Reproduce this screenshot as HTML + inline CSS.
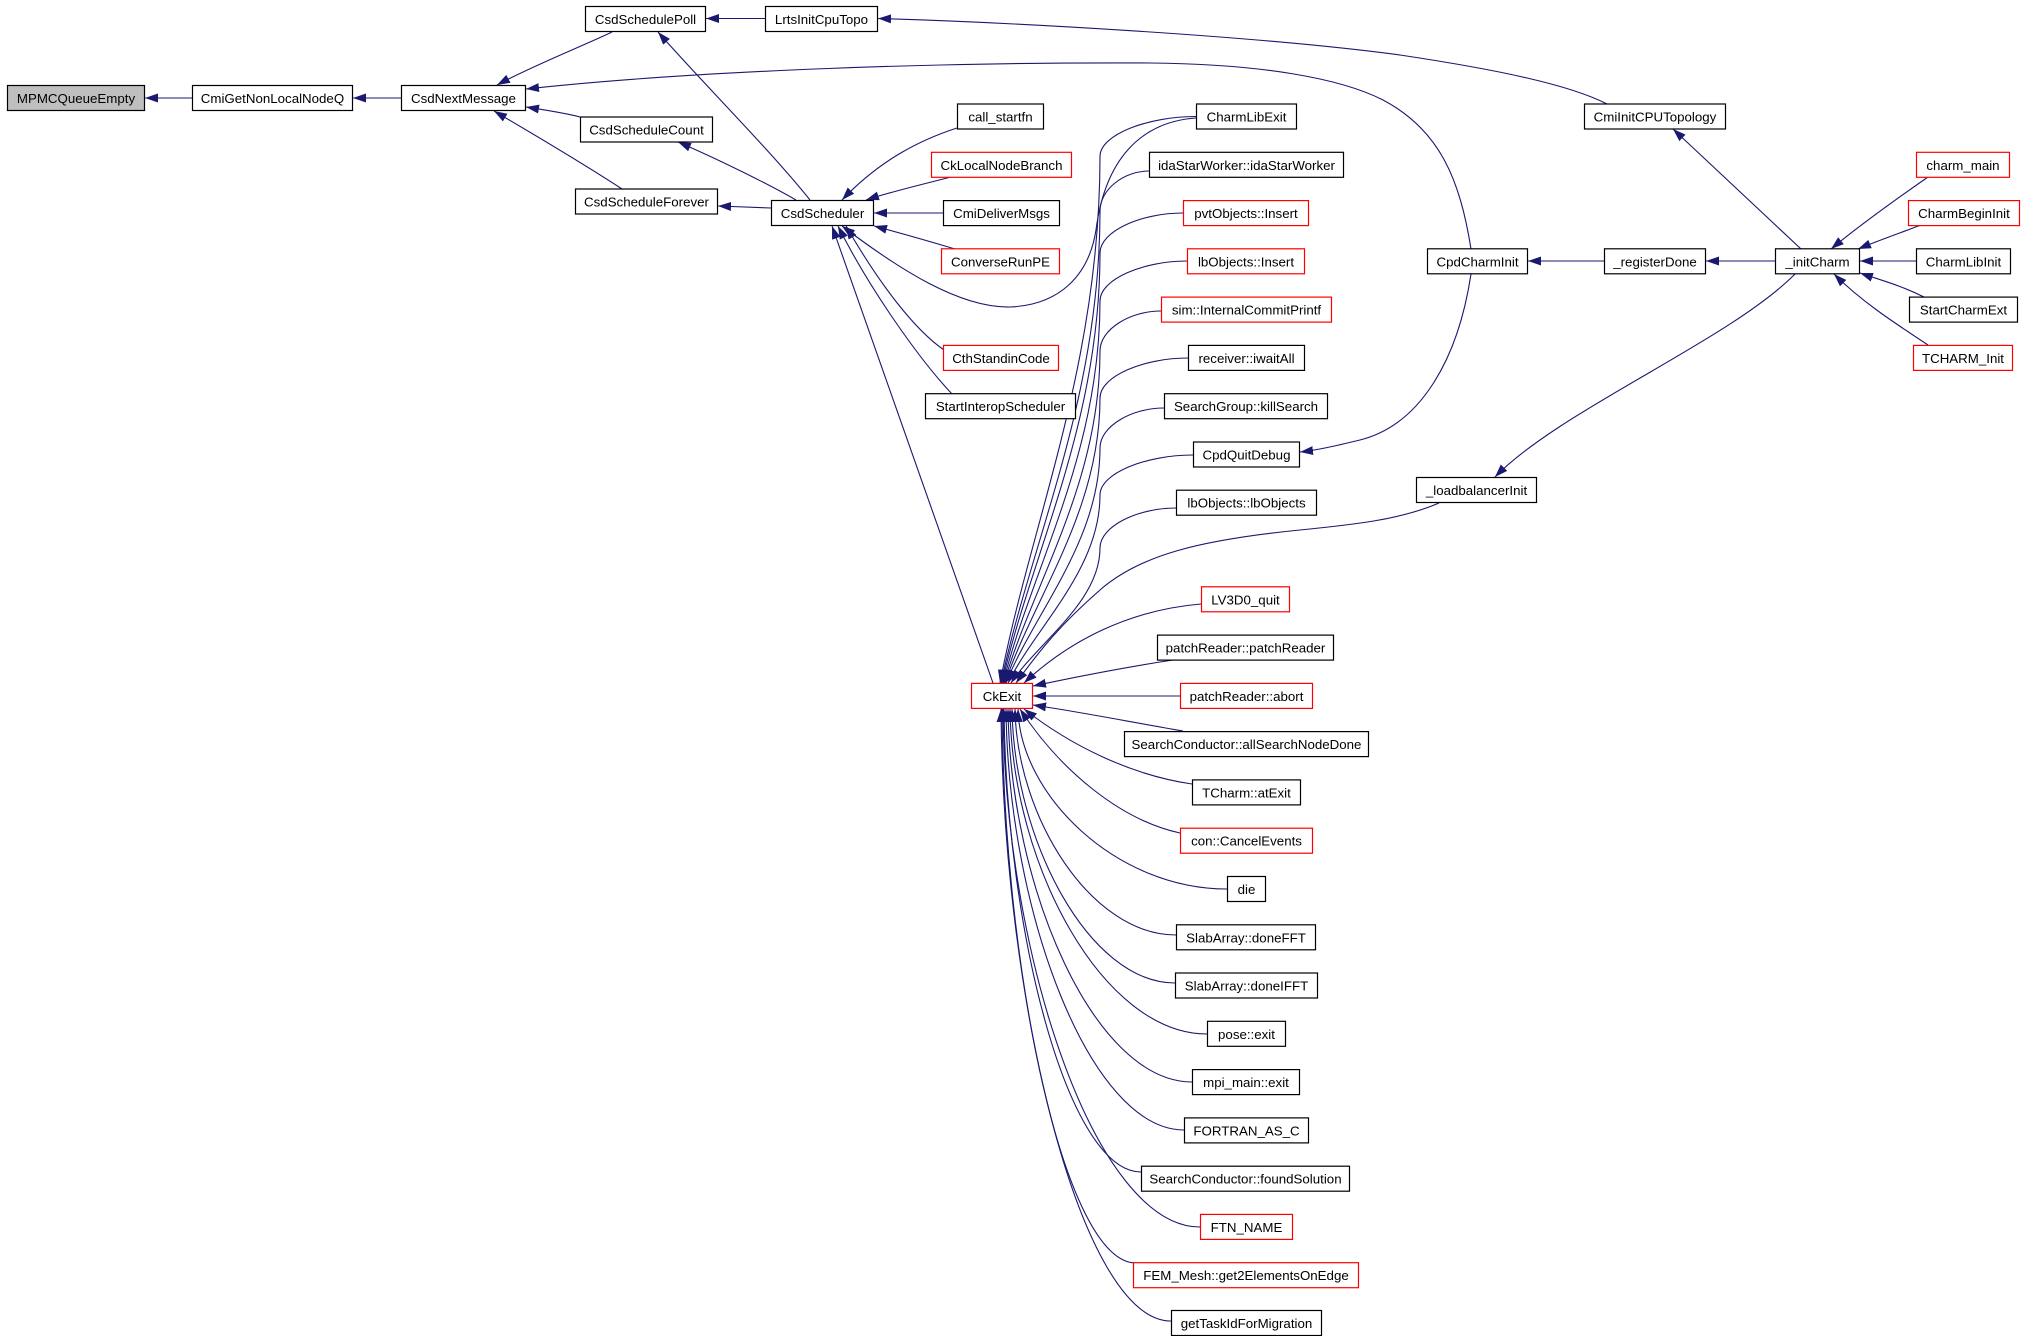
<!DOCTYPE html>
<html>
<head>
<meta charset="utf-8">
<style>
html,body{margin:0;padding:0;background:#fff;}
svg{display:block;}
text{font-family:"Liberation Sans",Arial,sans-serif;font-size:13.3px;fill:#000;}
</style>
</head>
<body>
<svg width="2024" height="1336" viewBox="0 0 2024 1336" xmlns="http://www.w3.org/2000/svg">
<defs>
<marker id="a" markerUnits="userSpaceOnUse" markerWidth="14" markerHeight="10" refX="13" refY="4.5" orient="auto">
<path d="M0,0 L13,4.5 L0,9 z" fill="#191970"/>
</marker>
</defs>
<rect width="2024" height="1336" fill="#fff"/>
<g fill="none" stroke="#191970" stroke-width="1.1" marker-end="url(#a)">
<path d="M192,98 L145,98"/>
<path d="M401,98 L353,98"/>
<path d="M612,32 C585,45 530,67 497,85"/>
<path d="M765,18.5 L706,18.5"/>
<path d="M580,117 C565,113 545,110 526,107"/>
<path d="M622,189 C590,168 540,138 494,111"/>
<path d="M1471,249 C1460,180 1440,130 1383,100 C1340,78 1260,64 1150,63 C950,62 700,70 526,89"/>
<path d="M1607,104 C1570,85 1500,70 1400,55 C1250,35 1000,22 878,18.5"/>
<path d="M1801,249 L1673,129"/>
<path d="M1604,261 L1528,261"/>
<path d="M1775,261 L1706,261"/>
<path d="M1795,274 C1730,340 1560,410 1495,477"/>
<path d="M1928,177 C1895,200 1860,225 1831,249"/>
<path d="M1921,225 C1900,233 1880,240 1858,249"/>
<path d="M1916,261 L1860,261"/>
<path d="M1924,297 C1900,285 1880,280 1860,273"/>
<path d="M1928,345 C1890,320 1860,300 1834,274"/>
<path d="M1471,274 C1458,360 1420,425 1360,440 C1335,446 1318,450 1300,452"/>
<path d="M1439,503 C1400,520 1350,525 1300,530 C1200,540 1140,555 1100,590 C1060,625 1040,650 1016,683"/>
<path d="M810,200 C770,150 700,80 658,32"/>
<path d="M796,200 C770,185 720,160 678,142"/>
<path d="M771,208 L718,206"/>
<path d="M957,128 C920,140 880,160 842,200"/>
<path d="M951,177 C920,185 890,192 866,200"/>
<path d="M943,213 L874,213"/>
<path d="M955,249 C925,240 900,233 874,226"/>
<path d="M944,350 C915,330 880,285 846,226"/>
<path d="M952,394 C920,360 870,290 838,226"/>
<path d="M993,683 L832,226"/>
<path d="M1196,118 C1140,122 1105,160 1096,230 C1089,275 1060,305 1010,307 C960,308 900,270 842,226"/>
<!-- upper fan to CkExit -->
<path d="M1196,116.5 C1148,116.5 1100,134.5 1100,156.5 C1100,367 1030,525 1000,683"/>
<path d="M1149,171 C1124.5,171 1100,189 1100,211 C1100,400 1031,541 1001,683"/>
<path d="M1183,213 C1141.5,213 1100,231 1100,253 C1100,425 1031,554 1002,683"/>
<path d="M1187,261 C1143.5,261 1100,279 1100,301 C1100,454 1032,568 1003,683"/>
<path d="M1161,311 C1130.5,311 1100,329 1100,351 C1100,484 1033,583 1004,683"/>
<path d="M1188,358 C1144,358 1100,376 1100,398 C1100,512 1033.5,597.5 1005,683"/>
<path d="M1164,408 C1132,408 1100,426 1100,448 C1100,542 1034,612.5 1006,683"/>
<path d="M1193,455 C1146.5,455 1100,473 1100,495 C1100,570 1035.6,626.6 1008,683"/>
<path d="M1176,508 C1138,508 1100,526 1100,548 C1100,602 1037.7,642.5 1011,683"/>
<path d="M1201,604 C1130,610 1070,640 1024,683"/>
<!-- side -->
<path d="M1173,660 C1120,668 1080,676 1033,686"/>
<path d="M1180,696 L1033,696"/>
<path d="M1183,731 C1120,720 1080,712 1033,705"/>
<!-- lower fan -->
<path d="M1192,784 C1130,775 1070,745 1024,709"/>
<path d="M1180,833 C1120,820 1060,770 1020,709"/>
<path d="M1227,889 C1116,889 1020,795 1018,709"/>
<path d="M1176,935 C1091,935 1017,817.5 1015,709"/>
<path d="M1175,983 C1089,983 1014,840.5 1012,709"/>
<path d="M1207,1034 C1103,1034 1012,865 1010,709"/>
<path d="M1192,1082 C1094.5,1082 1010,888 1008,709"/>
<path d="M1184,1130 C1090,1130 1008,911 1006,709"/>
<path d="M1141,1172 C1068,1172 1006,931 1004,709"/>
<path d="M1200,1227 C1096,1227 1005,957.6 1003,709"/>
<path d="M1136,1263 C1065,1263 1004,975 1002,709"/>
<path d="M1171,1321 C1081,1321 1003,1003 1001,709"/>
</g>
<g stroke-width="1.2">
<rect x="7.5" y="85.5" width="137" height="25" fill="#bfbfbf" stroke="#000"/>
<rect x="192.5" y="85.5" width="160" height="25" fill="#fff" stroke="#000"/>
<rect x="401.5" y="85.5" width="124" height="25" fill="#fff" stroke="#000"/>
<rect x="585.5" y="6.5" width="120" height="25" fill="#fff" stroke="#000"/>
<rect x="765.5" y="6.5" width="112" height="25" fill="#fff" stroke="#000"/>
<rect x="580.5" y="117" width="132" height="25" fill="#fff" stroke="#000"/>
<rect x="575.5" y="189" width="142" height="25" fill="#fff" stroke="#000"/>
<rect x="771.5" y="200.5" width="102" height="25" fill="#fff" stroke="#000"/>
<rect x="957.5" y="104" width="86" height="25" fill="#fff" stroke="#000"/>
<rect x="931.5" y="152.3" width="140" height="25" fill="#fff" stroke="#f00"/>
<rect x="943.5" y="200.6" width="116" height="25" fill="#fff" stroke="#000"/>
<rect x="941.5" y="248.8" width="118" height="25" fill="#fff" stroke="#f00"/>
<rect x="943.5" y="345.4" width="115" height="25" fill="#fff" stroke="#f00"/>
<rect x="925.5" y="393.7" width="150" height="25" fill="#fff" stroke="#000"/>
<rect x="971.5" y="683.4" width="61" height="25" fill="#fff" stroke="#f00"/>
<rect x="1196.5" y="104" width="100" height="25" fill="#fff" stroke="#000"/>
<rect x="1149.5" y="152.3" width="194" height="25" fill="#fff" stroke="#000"/>
<rect x="1183.5" y="200.6" width="125" height="25" fill="#fff" stroke="#f00"/>
<rect x="1187.5" y="248.8" width="117" height="25" fill="#fff" stroke="#f00"/>
<rect x="1161.5" y="297.1" width="170" height="25" fill="#fff" stroke="#f00"/>
<rect x="1188.5" y="345.4" width="116" height="25" fill="#fff" stroke="#000"/>
<rect x="1164.5" y="393.7" width="163" height="25" fill="#fff" stroke="#000"/>
<rect x="1193.5" y="442" width="106" height="25" fill="#fff" stroke="#000"/>
<rect x="1176.5" y="490.2" width="140" height="25" fill="#fff" stroke="#000"/>
<rect x="1201.5" y="586.8" width="88" height="25" fill="#fff" stroke="#f00"/>
<rect x="1157.5" y="635.1" width="176" height="25" fill="#fff" stroke="#000"/>
<rect x="1180.5" y="683.4" width="132" height="25" fill="#fff" stroke="#f00"/>
<rect x="1124.5" y="731.6" width="244" height="25" fill="#fff" stroke="#000"/>
<rect x="1192.5" y="779.9" width="108" height="25" fill="#fff" stroke="#000"/>
<rect x="1180.5" y="828.2" width="132" height="25" fill="#fff" stroke="#f00"/>
<rect x="1227.5" y="876.5" width="38" height="25" fill="#fff" stroke="#000"/>
<rect x="1176.5" y="924.8" width="139" height="25" fill="#fff" stroke="#000"/>
<rect x="1175.5" y="973" width="142" height="25" fill="#fff" stroke="#000"/>
<rect x="1207.5" y="1021.3" width="78" height="25" fill="#fff" stroke="#000"/>
<rect x="1192.5" y="1069.6" width="107" height="25" fill="#fff" stroke="#000"/>
<rect x="1184.5" y="1117.9" width="124" height="25" fill="#fff" stroke="#000"/>
<rect x="1141.5" y="1166.2" width="208" height="25" fill="#fff" stroke="#000"/>
<rect x="1200.5" y="1214.4" width="92" height="25" fill="#fff" stroke="#f00"/>
<rect x="1133.5" y="1262.7" width="225" height="25" fill="#fff" stroke="#f00"/>
<rect x="1171.5" y="1310.5" width="150" height="25" fill="#fff" stroke="#000"/>
<rect x="1584.5" y="104" width="141" height="25" fill="#fff" stroke="#000"/>
<rect x="1427.5" y="248.8" width="100" height="25" fill="#fff" stroke="#000"/>
<rect x="1604.5" y="248.8" width="101" height="25" fill="#fff" stroke="#000"/>
<rect x="1775.5" y="248.8" width="84" height="25" fill="#fff" stroke="#000"/>
<rect x="1416.5" y="477.5" width="120" height="25" fill="#fff" stroke="#000"/>
<rect x="1916.5" y="152.3" width="93" height="25" fill="#fff" stroke="#f00"/>
<rect x="1908.5" y="200.6" width="111" height="25" fill="#fff" stroke="#f00"/>
<rect x="1916.5" y="248.8" width="94" height="25" fill="#fff" stroke="#000"/>
<rect x="1909.5" y="297.1" width="108" height="25" fill="#fff" stroke="#000"/>
<rect x="1913.5" y="345.4" width="99" height="25" fill="#fff" stroke="#f00"/>
</g>
<g text-anchor="middle">
<text x="76" y="103">MPMCQueueEmpty</text>
<text x="272.5" y="103">CmiGetNonLocalNodeQ</text>
<text x="463.5" y="103">CsdNextMessage</text>
<text x="645.5" y="24">CsdSchedulePoll</text>
<text x="821.5" y="24">LrtsInitCpuTopo</text>
<text x="646.5" y="134.5">CsdScheduleCount</text>
<text x="646.5" y="206.5">CsdScheduleForever</text>
<text x="822.5" y="218">CsdScheduler</text>
<text x="1000.5" y="121.5">call_startfn</text>
<text x="1001.5" y="169.8">CkLocalNodeBranch</text>
<text x="1001.5" y="218.1">CmiDeliverMsgs</text>
<text x="1000.5" y="266.3">ConverseRunPE</text>
<text x="1001" y="362.9">CthStandinCode</text>
<text x="1000.5" y="411.2">StartInteropScheduler</text>
<text x="1002" y="700.9">CkExit</text>
<text x="1246.5" y="121.5">CharmLibExit</text>
<text x="1246.5" y="169.8">idaStarWorker::idaStarWorker</text>
<text x="1246" y="218.1">pvtObjects::Insert</text>
<text x="1246" y="266.3">lbObjects::Insert</text>
<text x="1246.5" y="314.6">sim::InternalCommitPrintf</text>
<text x="1246.5" y="362.9">receiver::iwaitAll</text>
<text x="1246" y="411.2">SearchGroup::killSearch</text>
<text x="1246.5" y="459.5">CpdQuitDebug</text>
<text x="1246.5" y="507.7">lbObjects::lbObjects</text>
<text x="1245.5" y="604.3">LV3D0_quit</text>
<text x="1245.5" y="652.6">patchReader::patchReader</text>
<text x="1246.5" y="700.9">patchReader::abort</text>
<text x="1246.5" y="749.1">SearchConductor::allSearchNodeDone</text>
<text x="1246.5" y="797.4">TCharm::atExit</text>
<text x="1246.5" y="845.7">con::CancelEvents</text>
<text x="1246.5" y="894">die</text>
<text x="1246" y="942.3">SlabArray::doneFFT</text>
<text x="1246.5" y="990.5">SlabArray::doneIFFT</text>
<text x="1246.5" y="1038.8">pose::exit</text>
<text x="1246" y="1087.1">mpi_main::exit</text>
<text x="1246.5" y="1135.4">FORTRAN_AS_C</text>
<text x="1245.5" y="1183.7">SearchConductor::foundSolution</text>
<text x="1246.5" y="1231.9">FTN_NAME</text>
<text x="1246" y="1280.2">FEM_Mesh::get2ElementsOnEdge</text>
<text x="1246.5" y="1328">getTaskIdForMigration</text>
<text x="1655" y="121.5">CmiInitCPUTopology</text>
<text x="1477.5" y="266.3">CpdCharmInit</text>
<text x="1655" y="266.3">_registerDone</text>
<text x="1817.5" y="266.3">_initCharm</text>
<text x="1476.5" y="495">_loadbalancerInit</text>
<text x="1963" y="169.8">charm_main</text>
<text x="1964" y="218.1">CharmBeginInit</text>
<text x="1963.5" y="266.3">CharmLibInit</text>
<text x="1963.5" y="314.6">StartCharmExt</text>
<text x="1963" y="362.9">TCHARM_Init</text>
</g>
</svg>
</body>
</html>
